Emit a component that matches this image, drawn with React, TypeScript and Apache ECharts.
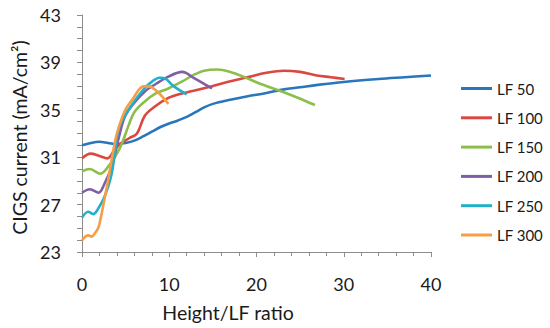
import React, { useEffect, useRef } from "react";
import * as echarts from "echarts";

const seriesNames = ["LF 50", "LF 100", "LF 150", "LF 200", "LF 250", "LF 300"];
const seriesColors = ["#2A76BC", "#DB4842", "#8CBE4B", "#7F5EA8", "#22AFCB", "#F79E44"];

const lf50: number[][] = [
  [0, 32.0], [1, 32.2], [2, 32.3], [3, 32.2], [4, 32.1], [5, 32.2], [6, 32.4], [7, 32.75],
  [8, 33.15], [9, 33.55], [10, 33.85], [11, 34.1], [12, 34.4], [13, 34.8], [14, 35.2],
  [15, 35.5], [17, 35.85], [19, 36.15], [21, 36.4], [23, 36.7], [25, 36.9], [27, 37.1],
  [30, 37.35], [34, 37.6], [37, 37.75], [40, 37.9],
];
const lf100: number[][] = [
  [0, 30.9], [1, 31.3], [2, 31.1], [2.9, 30.9], [3.8, 31.7], [4.5, 32.2], [5.4, 32.6],
  [6.3, 33.0], [7.2, 34.5], [8.4, 35.3], [9.9, 36.0], [11, 36.3], [12.8, 36.6], [15, 37.0],
  [17, 37.4], [19.3, 37.8], [21, 38.1], [23.1, 38.3], [25, 38.2], [26.9, 37.9], [28.5, 37.75],
  [30.1, 37.6],
];
const lf150: number[][] = [
  [0, 29.8], [0.9, 30.0], [2.1, 29.6], [3.2, 30.4], [4.0, 31.3], [4.6, 32.2], [5.3, 33.6],
  [6.0, 34.8], [7.2, 35.7], [8.5, 36.4], [9.9, 36.8], [11.5, 37.4], [12.8, 37.95], [14, 38.3],
  [15.5, 38.4], [17, 38.2], [18.5, 37.8], [20.4, 37.2], [22.9, 36.55], [24.8, 36.0], [26.7, 35.4],
];
const lf200: number[][] = [
  [0, 28.0], [0.9, 28.3], [1.9, 28.0], [2.6, 28.8], [3.4, 30.2], [4.2, 32.6], [4.9, 34.4],
  [6, 35.6], [7.2, 36.55], [8.5, 37.2], [9.9, 37.8], [11.5, 38.2], [12.8, 37.7], [14.9, 36.8],
];
const lf250: number[][] = [
  [0, 25.9], [0.7, 26.4], [1.3, 26.2], [1.8, 26.6], [2.6, 27.7], [3.4, 29.6], [4.2, 33.4],
  [5, 34.6], [5.7, 35.4], [6.8, 36.5], [7.8, 37.25], [8.9, 37.7], [9.6, 37.6], [10.5, 37.0],
  [12.0, 36.3],
];
const lf300: number[][] = [
  [0, 24.0], [0.7, 24.4], [1.1, 24.3], [1.5, 24.6], [1.9, 25.1], [2.4, 26.8], [3.0, 29.1],
  [3.6, 31.6], [4.0, 33.0], [4.9, 34.9], [5.8, 35.9], [6.8, 36.9], [7.5, 37.0], [8.0, 36.9],
  [8.7, 36.5], [9.9, 35.5],
];
const seriesData = [lf50, lf100, lf150, lf200, lf250, lf300];

const xTitle = "Height/LF ratio";
const yTitle = "CIGS current (mA/cm²)";

const FONT = "Lato";
const axisGray = "#8C8C8C";
const textColor = "#1a1a1a";

export default function App() {
  const ref = useRef<HTMLDivElement>(null);
  useEffect(() => {
    if (!ref.current) return;
    const chart = echarts.init(ref.current, undefined, { renderer: "svg" });
    chart.setOption({
      animation: false,
      backgroundColor: "#ffffff",
      textStyle: { fontFamily: FONT },
      grid: { left: 82, right: 119, top: 15, bottom: 76, containLabel: false },
      legend: {
        orient: "vertical",
        left: 461,
        top: 81,
        padding: 0,
        icon: "rect",
        itemWidth: 31,
        itemHeight: 3,
        itemGap: 14.3,
        data: seriesNames,
        textStyle: { fontFamily: FONT, fontSize: 15, color: textColor },
      },
      xAxis: {
        type: "value",
        min: 0,
        max: 40,
        interval: 10,
        name: xTitle,
        nameLocation: "middle",
        nameGap: 50,
        nameTextStyle: { fontFamily: FONT, fontSize: 19.5, color: textColor, padding: [0, 57, 0, 0] },
        axisLine: { show: true, lineStyle: { color: axisGray, width: 1 } },
        axisTick: { show: true, length: 5, lineStyle: { color: axisGray } },
        minorTick: { show: true, splitNumber: 5, length: 4, lineStyle: { color: axisGray } },
        splitLine: { show: false },
        axisLabel: { fontFamily: FONT, fontSize: 18, color: textColor, margin: 23 },
      },
      yAxis: {
        type: "value",
        min: 23,
        max: 43,
        interval: 4,
        name: yTitle,
        nameLocation: "middle",
        nameGap: 53,
        nameTextStyle: { fontFamily: FONT, fontSize: 19.5, color: textColor, padding: [0, 8, 0, 0] },
        axisLine: { show: true, lineStyle: { color: axisGray, width: 1 } },
        axisTick: { show: true, length: 5, lineStyle: { color: axisGray } },
        minorTick: { show: true, splitNumber: 4, length: 5, lineStyle: { color: axisGray } },
        splitLine: { show: false },
        axisLabel: { fontFamily: FONT, fontSize: 18, color: textColor, margin: 21 },
      },
      series: seriesNames.map((name, i) => ({
        name,
        type: "line",
        data: seriesData[i],
        smooth: 0.35,
        symbol: "none",
        color: seriesColors[i],
        lineStyle: { width: 2.6, color: seriesColors[i] },
      })),
    });
    return () => chart.dispose();
  }, []);
  return (
    <div
      ref={ref}
      style={{ position: "fixed", left: 0, top: 0, width: 550, height: 328 }}
    />
  );
}
